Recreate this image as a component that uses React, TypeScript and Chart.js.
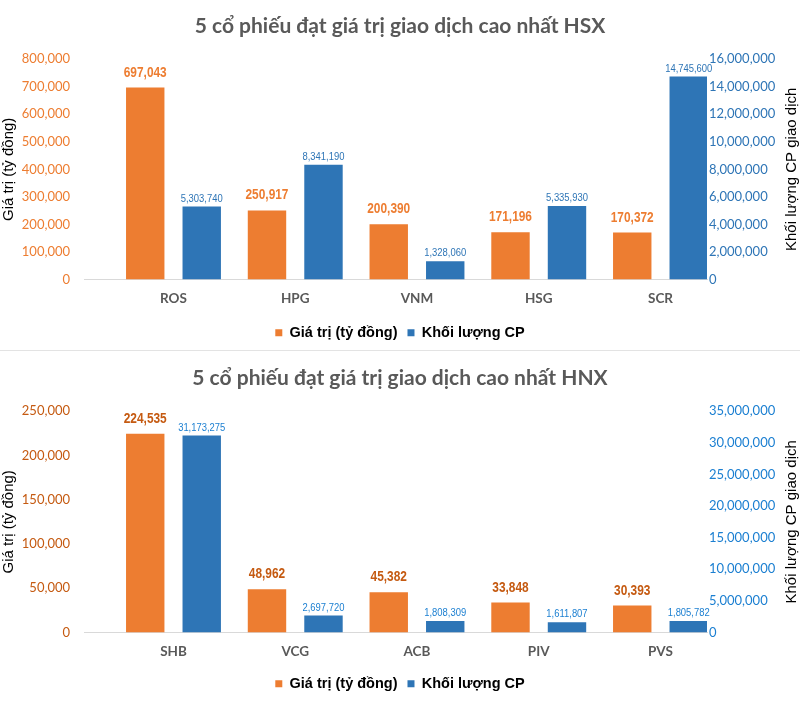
import React, { useEffect, useRef } from 'react';
import { Chart, registerables } from 'chart.js';

Chart.register(...registerables);

// ---------- DATA ----------
const hsxCategories = ['ROS', 'HPG', 'VNM', 'HSG', 'SCR'];
const hsxValues = [697043, 250917, 200390, 171196, 170372];
const hsxVolumes = [5303740, 8341190, 1328060, 5335930, 14745600];
const hsxLeftTicks = { max: 800000, step: 100000 };
const hsxRightTicks = { max: 16000000, step: 2000000 };

const hnxCategories = ['SHB', 'VCG', 'ACB', 'PIV', 'PVS'];
const hnxValues = [224535, 48962, 45382, 33848, 30393];
const hnxVolumes = [31173275, 2697720, 1808309, 1611807, 1805782];
const hnxLeftTicks = { max: 250000, step: 50000 };
const hnxRightTicks = { max: 35000000, step: 5000000 };

const seriesNames = ['Giá trị (tỷ đồng)', 'Khối lượng CP'];
const leftAxisTitle = 'Giá trị (tỷ đồng)';
const rightAxisTitle = 'Khối lượng CP giao dịch';
const hsxTitle = '5 cổ phiếu đạt giá trị giao dịch cao nhất HSX';
const hnxTitle = '5 cổ phiếu đạt giá trị giao dịch cao nhất HNX';

// ---------- STYLE ----------
const ORANGE = '#ED7D31';
const BLUE = '#2E75B6';
const fmt = (v: number) => Math.round(v).toLocaleString('en-US');

const barLabelPlugin = {
  id: 'barLabels',
  afterDatasetsDraw(chart: any, _args: any, opts: any) {
    const ctx = chart.ctx;
    chart.data.datasets.forEach((ds: any, di: number) => {
      const meta = chart.getDatasetMeta(di);
      const st = opts.styles[di];
      meta.data.forEach((el: any, i: number) => {
        const v = ds.data[i].y;
        ctx.save();
        ctx.font = st.font;
        ctx.fillStyle = st.color;
        ctx.textAlign = 'center';
        ctx.textBaseline = 'middle';
        ctx.translate(el.x, el.y - st.offset);
        ctx.scale(0.82, 1); // narrow face, like Arial Narrow
        ctx.fillText(fmt(v), 0, 0);
        ctx.restore();
      });
    });
  },
};

const rightTitlePlugin = {
  id: 'rightTitle',
  afterDraw(chart: any, _args: any, opts: any) {
    const ctx = chart.ctx;
    const { top, bottom } = chart.chartArea;
    ctx.save();
    ctx.translate(opts.x, (top + bottom) / 2);
    ctx.rotate(-Math.PI / 2);
    ctx.font = opts.font;
    ctx.fillStyle = opts.color;
    ctx.textAlign = 'center';
    ctx.textBaseline = 'middle';
    ctx.fillText(opts.text, 0, 0);
    ctx.restore();
  },
};

type Props = {
  height: number;
  title: string;
  categories: string[];
  values: number[];
  volumes: number[];
  left: { max: number; step: number };
  right: { max: number; step: number };
  leftTickColor: string;
  rightTickColor: string;
  valueLabelColor: string;
  volumeLabelColor: string;
  titlePad: { top: number; bottom: number };
  bottomPad: number;
  xHeight: number;
};

function BarChart(p: Props) {
  const ref = useRef<HTMLCanvasElement>(null);
  useEffect(() => {
    if (!ref.current) return;
    const n = p.categories.length;
    const chart = new Chart(ref.current, {
      type: 'bar',
      data: {
        datasets: [
          {
            label: seriesNames[0],
            data: p.values.map((v, i) => ({ x: i, y: v })),
            backgroundColor: ORANGE,
            borderWidth: 0,
            yAxisID: 'yL',
            categoryPercentage: 0.928,
            barPercentage: 0.68,
          },
          {
            label: seriesNames[1],
            data: p.volumes.map((v, i) => ({ x: i, y: v })),
            backgroundColor: BLUE,
            borderWidth: 0,
            yAxisID: 'yR',
            categoryPercentage: 0.928,
            barPercentage: 0.68,
          },
        ],
      },
      options: {
        animation: false,
        responsive: false,
        events: [],
        layout: { padding: { left: 0, right: 0, top: 0, bottom: p.bottomPad } },
        scales: {
          x: {
            type: 'linear',
            offset: false,
            min: -0.735,
            max: n - 1 + 0.382,
            afterBuildTicks: (s: any) => {
              s.ticks = p.categories.map((_, i) => ({ value: i }));
            },
            afterFit: (s: any) => {
              s.height = p.xHeight;
            },
            grid: { display: false, drawTicks: false },
            border: { display: true, color: '#D9D9D9', width: 1 },
            ticks: {
              padding: 11,
              autoSkip: false,
              maxRotation: 0,
              color: '#595959',
              font: { family: 'Lato, "Open Sans", sans-serif', size: 13.5, weight: 'bold' },
              callback: (v: any) => p.categories[v] ?? '',
            },
          },
          yL: {
            position: 'left',
            min: 0,
            max: p.left.max,
            afterFit: (s: any) => {
              s.width = 84;
            },
            grid: { display: false, drawTicks: false },
            border: { display: false },
            ticks: {
              stepSize: p.left.step,
              padding: 14,
              color: p.leftTickColor,
              font: { family: 'Lato, "Open Sans", sans-serif', size: 13 },
              callback: (v: any) => fmt(Number(v)),
            },
            title: {
              display: true,
              text: leftAxisTitle,
              color: '#000000',
              padding: 0,
              font: { family: '"Liberation Sans", Arial, sans-serif', size: 15 },
            },
          },
          yR: {
            position: 'right',
            min: 0,
            max: p.right.max,
            afterFit: (s: any) => {
              s.width = 93;
            },
            grid: { display: false, drawTicks: false },
            border: { display: false },
            ticks: {
              stepSize: p.right.step,
              padding: 2,
              color: p.rightTickColor,
              font: { family: 'Lato, "Open Sans", sans-serif', size: 13 },
              callback: (v: any) => fmt(Number(v)),
            },
          },
        },
        plugins: {
          tooltip: { enabled: false },
          title: {
            display: true,
            text: p.title,
            color: '#595959',
            padding: p.titlePad,
            font: { family: 'Lato, "Open Sans", sans-serif', size: 21, weight: 'bold', lineHeight: 1.2 },
          },
          legend: {
            display: true,
            position: 'bottom',
            labels: {
              boxWidth: 7,
              boxHeight: 7,
              padding: 10,
              color: '#000000',
              font: { family: '"Liberation Sans", Arial, sans-serif', size: 14.5, weight: 'bold' },
            },
          },
          barLabels: {
            styles: [
              {
                font: 'bold 14.5px "Liberation Sans", Arial, sans-serif',
                color: p.valueLabelColor,
                offset: 15,
              },
              {
                font: '11.5px "Liberation Sans", Arial, sans-serif',
                color: p.volumeLabelColor,
                offset: 8,
              },
            ],
          },
          rightTitle: {
            x: 791.5,
            text: rightAxisTitle,
            color: '#000000',
            font: '15px "Liberation Sans", Arial, sans-serif',
          },
        } as any,
      },
      plugins: [barLabelPlugin, rightTitlePlugin],
    } as any);
    return () => chart.destroy();
  }, []);
  return <canvas ref={ref} width={800} height={p.height} style={{ display: 'block' }} />;
}

export default function App() {
  useEffect(() => {
    document.body.style.margin = '0';
    document.body.style.background = '#ffffff';
  }, []);
  return (
    <div style={{ width: 800, background: '#fff' }}>
      <BarChart
        height={350}
        title={hsxTitle}
        categories={hsxCategories}
        values={hsxValues}
        volumes={hsxVolumes}
        left={hsxLeftTicks}
        right={hsxRightTicks}
        leftTickColor={ORANGE}
        rightTickColor={BLUE}
        valueLabelColor={ORANGE}
        volumeLabelColor={BLUE}
        titlePad={{ top: 14, bottom: 20 }}
        bottomPad={0}
        xHeight={36}
      />
      <div style={{ height: 1, background: '#E3E3E3' }} />
      <BarChart
        height={373}
        title={hnxTitle}
        categories={hnxCategories}
        values={hnxValues}
        volumes={hnxVolumes}
        left={hnxLeftTicks}
        right={hnxRightTicks}
        leftTickColor={'#C55A11'}
        rightTickColor={'#1B7FD1'}
        valueLabelColor={'#C55A11'}
        volumeLabelColor={'#1B7FD1'}
        titlePad={{ top: 15, bottom: 20 }}
        bottomPad={23}
        xHeight={34}
      />
    </div>
  );
}
